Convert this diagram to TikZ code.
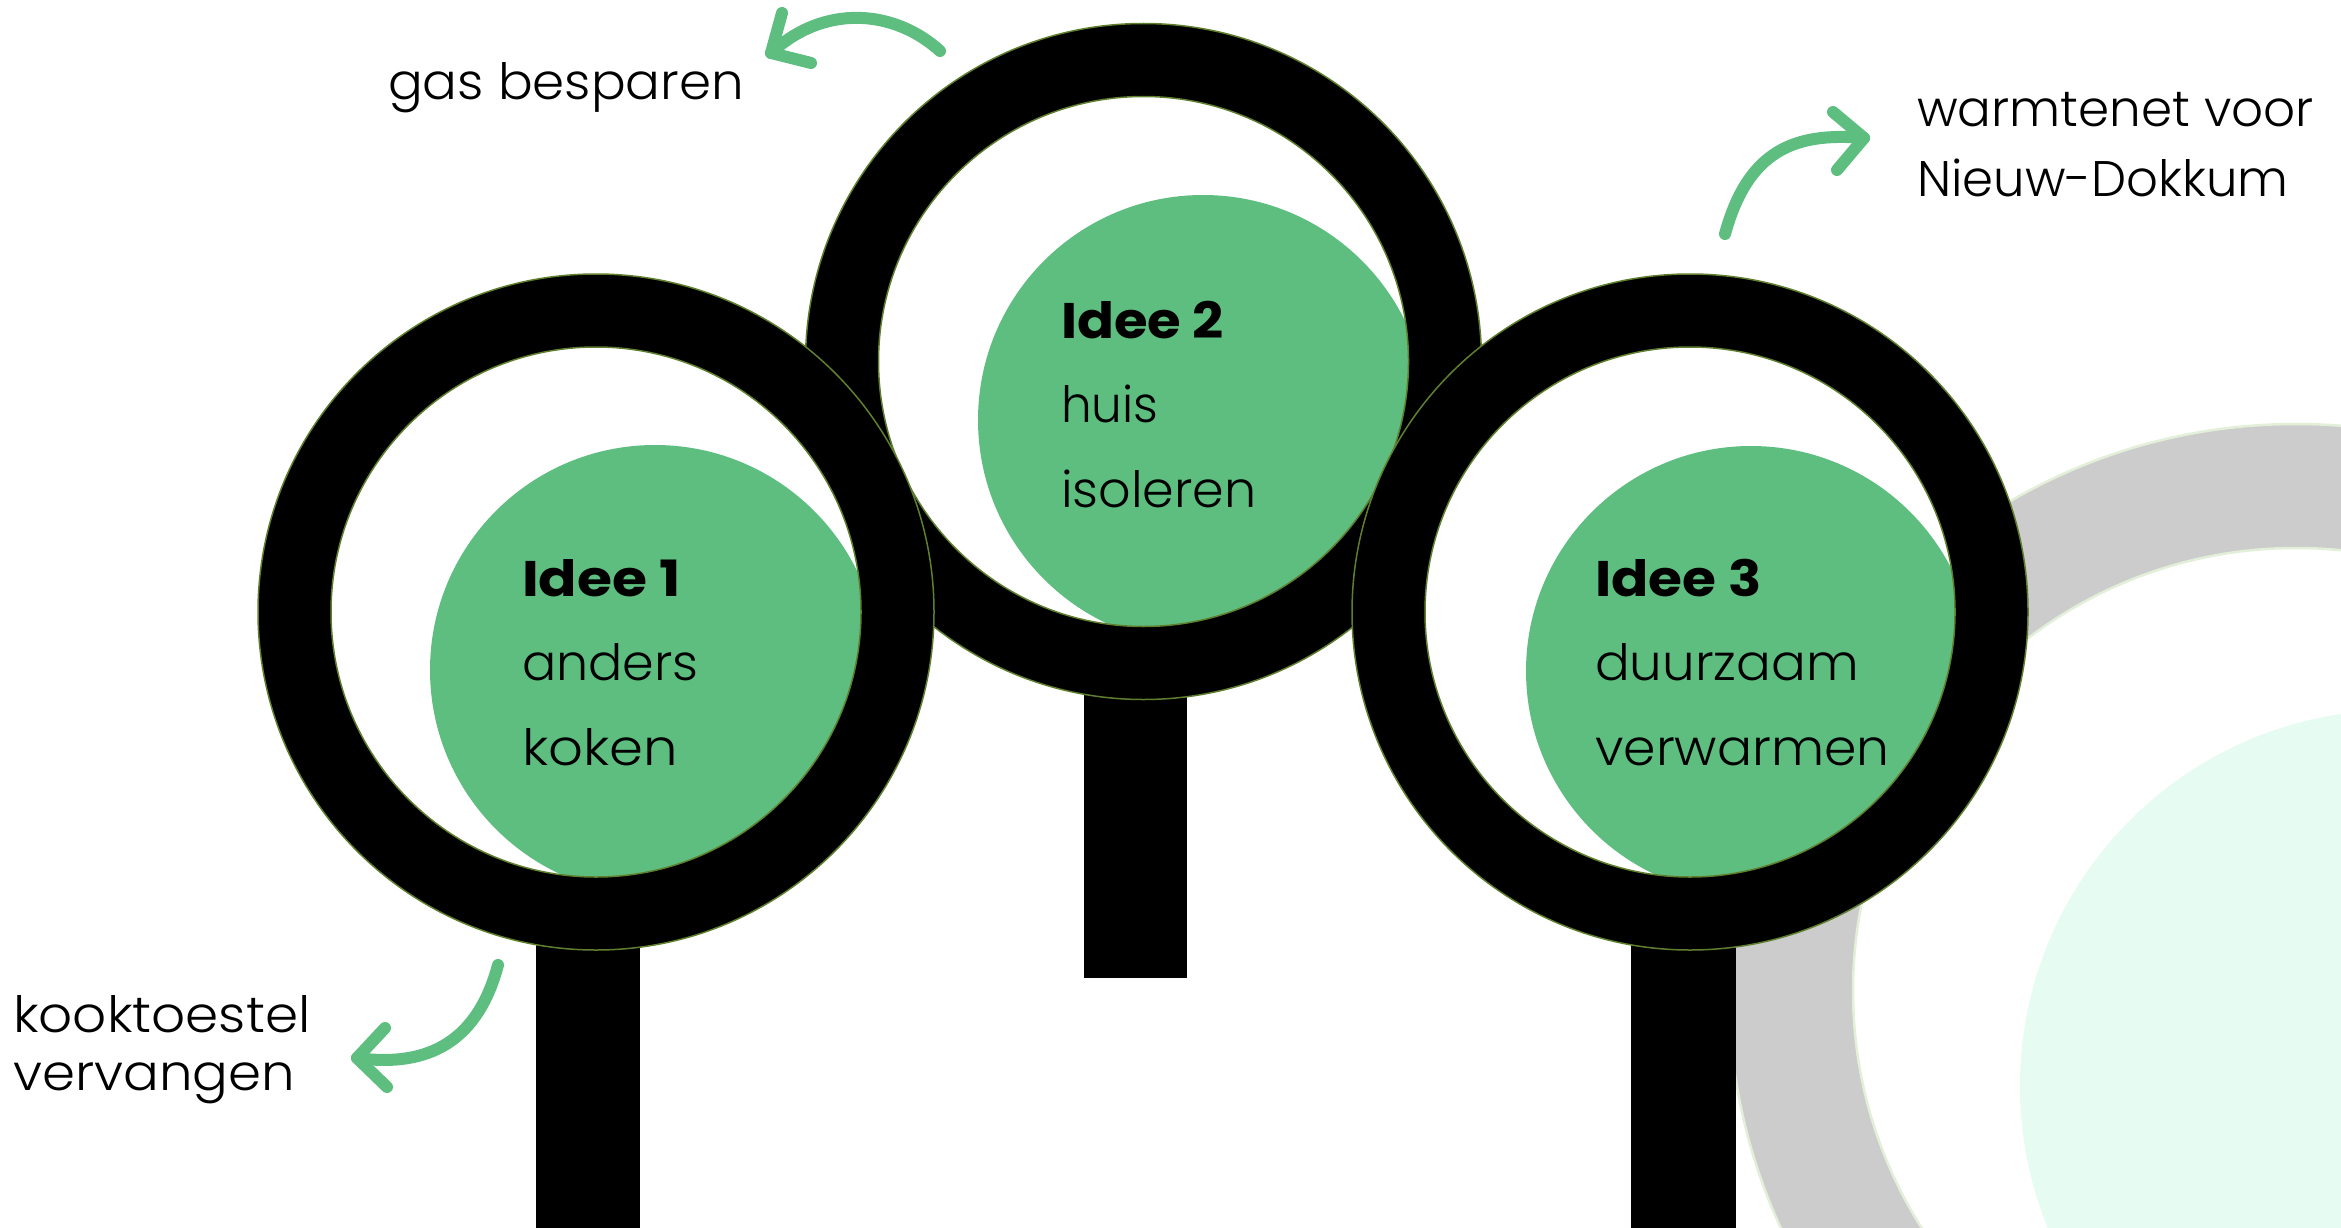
\documentclass[tikz,border=0pt]{standalone}
\usepackage{fontspec}
\usepackage{graphicx}
\setmainfont{Poppins}[UprightFont=* Light,BoldFont=* Bold]
\definecolor{leaf}{HTML}{5DBE80}
\definecolor{ringedge}{HTML}{5F7F2F}
\definecolor{pale}{HTML}{E6FBF1}
\definecolor{grayring}{HTML}{CCCCCC}
\definecolor{grayedge}{HTML}{E3EFD9}
\newcommand{\sx}[2]{\scalebox{#1}[1]{#2}}
\tikzset{
  ringshape/.style={fill=black,draw=ringedge,line width=1.5pt,even odd rule},
  handle/.style={fill=black},
  blob/.style={fill=leaf},
  lens/.style={fill=white},
  curvearrow/.style={draw=leaf,line width=12pt,line cap=round,line join=round},
  ideatext/.style={anchor=base west,inner sep=0pt,font=\fontsize{50}{50}\selectfont},
  sidetext/.style={anchor=base west,inner sep=0pt,font=\fontsize{50}{50}\selectfont}
}
\begin{document}
\begin{tikzpicture}[x=1pt,y=-1pt]
\useasboundingbox (0,0) rectangle (2341,1228);
\clip (0,0) rectangle (2341,1228);
% background shapes
\fill[pale] (2396,1086) circle[radius=376pt];
\path[fill=grayring,draw=grayedge,line width=2.5pt,even odd rule]
  (2296,991) circle[radius=567pt] (2296,991) circle[radius=443pt];
% magnifier 2
\fill[handle] (1084,660) rectangle (1187,978);
\fill[blob] (1203,420) circle[radius=225pt];
\path[ringshape] (1143.5,361.5) circle[radius=338pt] (1143.5,361.5) circle[radius=265pt];
% magnifier 1
\fill[handle] (536,900) rectangle (640,1228);
\fill[lens] (596,612) circle[radius=265pt];
\fill[blob] (655,670) circle[radius=225pt];
\path[ringshape] (596,612) circle[radius=338pt] (596,612) circle[radius=265pt];
% magnifier 3
\fill[handle] (1631,900) rectangle (1735.5,1228);
\fill[lens] (1690,612) circle[radius=265pt];
\fill[blob] (1751,671) circle[radius=225pt];
\path[ringshape] (1690,612) circle[radius=338pt] (1690,612) circle[radius=265pt];
% texts
\node[ideatext] (i1a) at (522,596) {\sx{1.135}{\textbf{Idee 1}}};
\node[ideatext] (i1b) at (522,680) {\sx{1.015}{anders}};
\node[ideatext] (i1c) at (522,765) {\sx{1.09}{koken}};
\node[ideatext] (i2a) at (1061,338) {\sx{1.09}{\textbf{Idee 2}}};
\node[ideatext] (i2b) at (1061,422) {\sx{0.97}{huis}};
\node[ideatext] (i2c) at (1061,507) {\sx{1.015}{isoleren}};
\node[ideatext] (i3a) at (1595,596) {\sx{1.10}{\textbf{Idee 3}}};
\node[ideatext] (i3b) at (1595,680) {\sx{1.03}{duurzaam}};
\node[ideatext] (i3c) at (1595,765) {\sx{1.04}{verwarmen}};
\node[sidetext] (gas) at (388,100) {\sx{1.03}{gas besparen}};
\node[sidetext] (warm1) at (1917,127) {warmtenet voor};
\node[sidetext] (warm2) at (1917,196) {\sx{0.995}{Nieuw-Dokkum}};
\node[sidetext] (kook1) at (13,1032) {\sx{1.065}{kooktoestel}};
\node[sidetext] (kook2) at (13,1090) {\sx{1.06}{vervangen}};
% arrows
\coordinate (a1s) at (498,965); \coordinate (a1t) at (357,1058);
\coordinate (a1u) at (385,1028); \coordinate (a1l) at (387,1087);
\draw[curvearrow] (a1s) .. controls (478,1040) and (430,1068) .. (a1t);
\draw[curvearrow] (a1u) -- (a1t) -- (a1l);
\coordinate (a2s) at (940,51); \coordinate (a2t) at (771,53);
\coordinate (a2u) at (782,13); \coordinate (a2l) at (811,63);
\draw[curvearrow] (a2s) .. controls (895,10) and (825,3) .. (a2t);
\draw[curvearrow] (a2u) -- (a2t) -- (a2l);
\coordinate (a3s) at (1725,234); \coordinate (a3t) at (1864,138);
\coordinate (a3u) at (1833,112); \coordinate (a3l) at (1837,170);
\draw[curvearrow] (a3s) .. controls (1748,150) and (1795,132) .. (a3t);
\draw[curvearrow] (a3u) -- (a3t) -- (a3l);
\end{tikzpicture}
\end{document}
